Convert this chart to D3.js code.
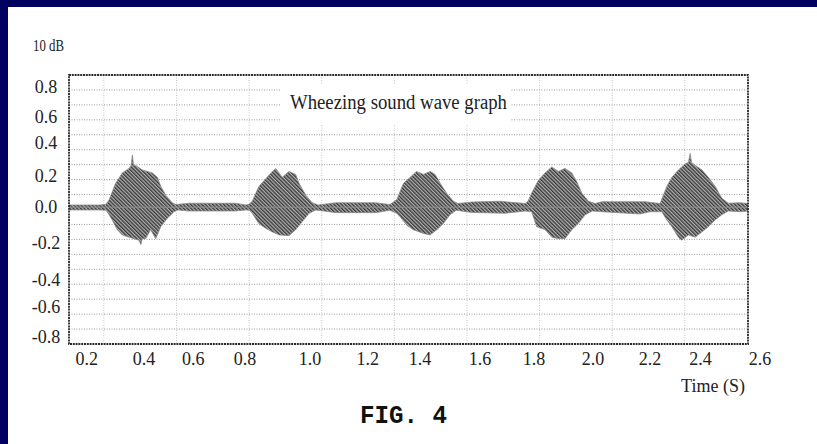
<!DOCTYPE html>
<html><head><meta charset="utf-8">
<script src="https://cdn.jsdelivr.net/npm/d3@7"></script>
<style>html,body{margin:0;padding:0;background:#fff;}svg{display:block;}</style>
</head><body>
<script>
// ---- data ----
const xTickValues = [0.2,0.4,0.6,0.8,1.0,1.2,1.4,1.6,1.8,2.0,2.2,2.4,2.6];
const yTickValues = [0.8,0.6,0.4,0.2,0.0,-0.2,-0.4,-0.6,-0.8];
const upperT = [0.137,0.247,0.269,0.280,0.303,0.327,0.351,0.358,0.363,0.367,0.375,0.398,0.434,0.452,0.464,0.482,0.505,0.518,0.565,0.729,0.768,0.779,0.790,0.814,0.838,0.862,0.874,0.897,0.921,0.945,0.957,0.981,1.004,1.025,1.088,1.230,1.281,1.305,1.329,1.353,1.376,1.400,1.424,1.442,1.460,1.483,1.507,1.524,1.574,1.673,1.763,1.773,1.786,1.810,1.834,1.858,1.881,1.905,1.929,1.947,1.965,1.988,2.012,2.037,2.190,2.244,2.268,2.286,2.309,2.333,2.345,2.351,2.356,2.369,2.393,2.416,2.440,2.464,2.487,2.529,2.558];
const upperV = [0.015,0.015,0.02,0.05,0.16,0.23,0.26,0.28,0.35,0.28,0.28,0.25,0.23,0.2,0.14,0.08,0.03,0.018,0.027,0.027,0.015,0.02,0.04,0.14,0.19,0.24,0.26,0.2,0.24,0.22,0.16,0.08,0.03,0.015,0.03,0.03,0.018,0.05,0.16,0.2,0.24,0.22,0.24,0.22,0.16,0.094,0.04,0.025,0.035,0.04,0.025,0.04,0.094,0.18,0.23,0.27,0.24,0.26,0.23,0.17,0.094,0.04,0.025,0.037,0.037,0.025,0.14,0.2,0.25,0.29,0.3,0.36,0.3,0.28,0.25,0.2,0.14,0.06,0.027,0.03,0.025];
const lowerT = [0.137,0.247,0.269,0.280,0.291,0.309,0.327,0.351,0.386,0.393,0.398,0.410,0.428,0.446,0.464,0.487,0.511,0.525,0.565,0.729,0.768,0.779,0.790,0.814,0.838,0.862,0.886,0.921,0.945,0.969,0.993,1.017,1.088,1.230,1.281,1.305,1.317,1.341,1.364,1.400,1.424,1.448,1.472,1.495,1.517,1.574,1.691,1.763,1.786,1.804,1.834,1.858,1.881,1.905,1.929,1.953,1.977,2.002,2.037,2.172,2.208,2.250,2.268,2.286,2.309,2.321,2.345,2.369,2.393,2.416,2.440,2.464,2.487,2.529,2.558];
const lowerV = [-0.018,-0.018,-0.02,-0.05,-0.085,-0.15,-0.185,-0.2,-0.22,-0.25,-0.21,-0.21,-0.15,-0.21,-0.13,-0.075,-0.03,-0.018,-0.025,-0.025,-0.018,-0.02,-0.04,-0.11,-0.14,-0.165,-0.185,-0.19,-0.15,-0.095,-0.04,-0.018,-0.036,-0.036,-0.02,-0.04,-0.063,-0.12,-0.15,-0.175,-0.185,-0.15,-0.107,-0.05,-0.02,-0.035,-0.04,-0.025,-0.03,-0.13,-0.15,-0.2,-0.21,-0.21,-0.15,-0.107,-0.05,-0.025,-0.03,-0.045,-0.03,-0.03,-0.085,-0.13,-0.2,-0.22,-0.185,-0.2,-0.165,-0.13,-0.085,-0.05,-0.025,-0.03,-0.025];
const titleText = "Wheezing sound wave graph";
const unitText = "10 dB";
const xAxisTitle = "Time (S)";
const figText = "FIG. 4";

// ---- layout ----
const W = 817, H = 444;
const plot = {l:69, t:75, r:748, b:344};
const svg = d3.select("body").append("svg").attr("width",W).attr("height",H);

svg.append("rect").attr("width",W).attr("height",H).attr("fill","#000060");
svg.append("rect").attr("x",8).attr("y",7).attr("width",W-8).attr("height",H-7).attr("fill","#fff");

// scales
const x = d3.scaleLinear().domain([0.2,2.6]).range([86.7,760]);
const y = d3.scaleLinear().domain([-0.915,0.885]).range([plot.b,plot.t]);
// tick label placement (as printed in the figure)
const xLab = d3.scaleLinear().domain(xTickValues).range([86.7,144,193.3,245,310,367.7,420,480,534,593,650,700.5,760]);
const yLab = d3.scaleLinear().domain(yTickValues).range([86.7,116.7,142.7,176,207.3,243.3,280,306.7,336.7]);
// grid scales
const gx = d3.scaleLinear().domain([-0.48,8.87]).range([plot.l,plot.r]);
const gy = d3.scaleLinear().domain([0,18]).range([plot.t,plot.b]);

const defs = svg.append("defs");
const pat = defs.append("pattern").attr("id","hatch").attr("patternUnits","userSpaceOnUse")
  .attr("width",2.6).attr("height",2.6).attr("patternTransform","rotate(-45)");
pat.append("rect").attr("width",2.6).attr("height",2.6).attr("fill","#b0b0b0");
pat.append("rect").attr("width",1.35).attr("height",2.6).attr("fill","#383838");
defs.append("clipPath").attr("id","clip").append("rect")
  .attr("x",plot.l).attr("y",plot.t).attr("width",plot.r-plot.l).attr("height",plot.b-plot.t);

// grid
const grid = svg.append("g");
grid.selectAll("line.h").data(d3.range(1,18)).join("line")
  .attr("x1",plot.l).attr("x2",plot.r).attr("y1",d=>gy(d)).attr("y2",d=>gy(d))
  .attr("stroke","#9a9a9a").attr("stroke-width",1).attr("stroke-dasharray","1,1.5");
grid.selectAll("line.v").data(d3.range(0,9)).join("line")
  .attr("y1",plot.t).attr("y2",plot.b).attr("x1",d=>gx(d)).attr("x2",d=>gx(d))
  .attr("stroke","#c4c4c4").attr("stroke-width",1).attr("stroke-dasharray","1,1.5");

// title box
svg.append("rect").attr("x",280).attr("y",84).attr("width",230).attr("height",40).attr("fill","#fff");
svg.append("text").attr("x",290).attr("y",109).attr("textLength",217).attr("lengthAdjust","spacingAndGlyphs")
  .attr("font-family","Liberation Serif").attr("font-size",20).attr("fill","#222").text(titleText);

// waveform
const wave = svg.append("g").attr("clip-path","url(#clip)");
const up = upperT.map((t,i)=>({t, v:upperV[i]}));
const lo = lowerT.map((t,i)=>({t, v:lowerV[i]}));
const area = d3.area().x(d=>x(d.t)).y0(y(0)).y1(d=>y(d.v)).curve(d3.curveLinear);
[up, lo].forEach(s=>{
  wave.append("path").datum(s).attr("d",area).attr("fill","url(#hatch)")
    .attr("stroke","#8a8a8a").attr("stroke-width",0.8);
});

// frame
svg.append("rect").attr("x",plot.l).attr("y",plot.t).attr("width",plot.r-plot.l).attr("height",plot.b-plot.t)
  .attr("fill","none").attr("stroke","#2a2a2a").attr("stroke-width",1.8).attr("stroke-dasharray","2,0.8");

// axis labels
const serif = "Liberation Serif";
svg.append("g").selectAll("text").data(xTickValues).join("text")
  .attr("x",d=>xLab(d)).attr("y",365).attr("text-anchor","middle")
  .attr("font-family",serif).attr("font-size",18).attr("fill","#222").text(d=>d3.format(".1f")(d));
svg.append("g").selectAll("text").data(yTickValues).join("text")
  .attr("x",46).attr("y",d=>yLab(d)+6).attr("text-anchor","middle")
  .attr("font-family",serif).attr("font-size",18).attr("fill","#222").text(d=>d3.format(".1f")(d).replace("−","-"));

svg.append("text").attr("x",33).attr("y",51).attr("textLength",31).attr("lengthAdjust","spacingAndGlyphs")
  .attr("font-family",serif).attr("font-size",17).attr("fill","#222").text(unitText);
svg.append("text").attr("x",713).attr("y",392).attr("text-anchor","middle")
  .attr("font-family",serif).attr("font-size",18).attr("fill","#222").text(xAxisTitle);
svg.append("text").attr("x",360).attr("y",423).attr("textLength",87).attr("lengthAdjust","spacingAndGlyphs")
  .attr("font-family","Liberation Mono").attr("font-weight","bold").attr("font-size",26).attr("fill","#111").text(figText);
</script>
</body></html>
